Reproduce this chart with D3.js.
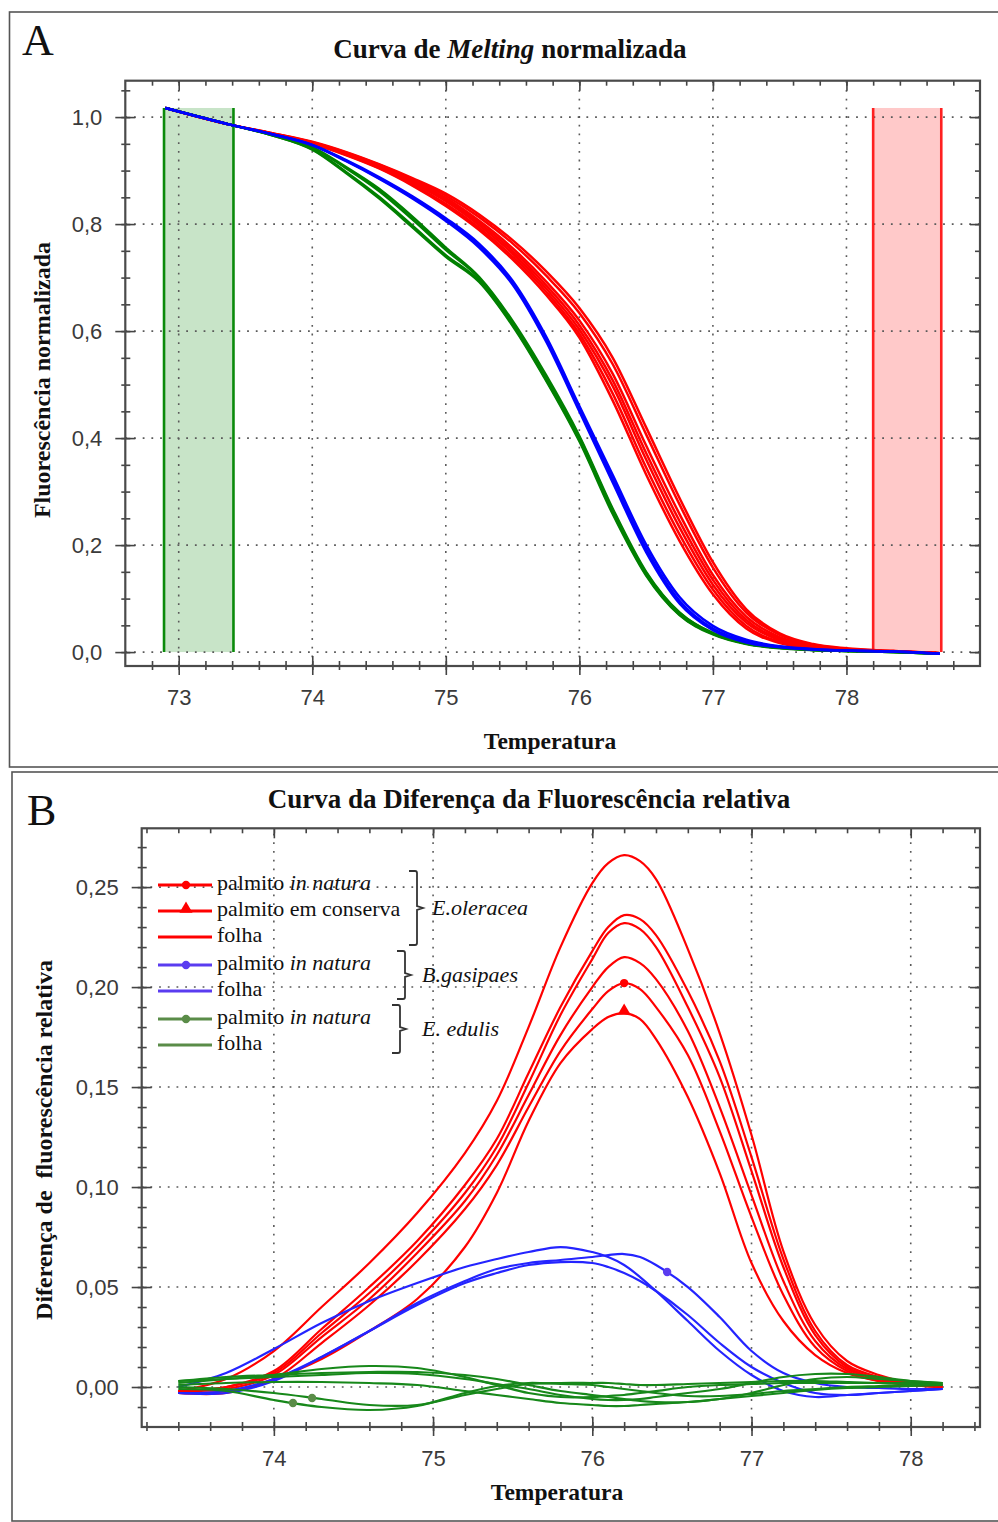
<!DOCTYPE html>
<html>
<head>
<meta charset="utf-8">
<script src="https://cdn.jsdelivr.net/npm/d3@7"></script>
<style>
  body { margin: 0; background: #fff; }
  svg { display: block; }
  .tick text { font-family: "Liberation Sans", Arial, sans-serif; font-size: 22px; fill: #3a3a3a; }
  .tick line { stroke: #444; stroke-width: 1.6; }
  .serif { font-family: "Liberation Serif", "Times New Roman", serif; }
</style>
</head>
<body>
<svg id="chart" width="998" height="1522"></svg>
<script>
// ---- Panel A: normalized melting curves ----
const tempA = [72.9, 73.4, 73.7, 74.0, 74.25, 74.5, 74.75, 75.0, 75.25, 75.5, 75.75, 76.0, 76.25, 76.5, 76.75, 77.0, 77.25, 77.5, 77.75, 78.0, 78.35, 78.7];
const redA = [
  [1.017, 0.985, 0.970, 0.954, 0.935, 0.912, 0.886, 0.857, 0.818, 0.770, 0.712, 0.643, 0.550, 0.420, 0.288, 0.168, 0.080, 0.035, 0.015, 0.007, 0.002, -0.002],
  [1.017, 0.985, 0.970, 0.953, 0.934, 0.911, 0.884, 0.853, 0.813, 0.764, 0.704, 0.634, 0.538, 0.407, 0.276, 0.158, 0.074, 0.032, 0.014, 0.006, 0.002, -0.002],
  [1.017, 0.985, 0.969, 0.952, 0.932, 0.909, 0.881, 0.849, 0.806, 0.755, 0.693, 0.620, 0.520, 0.386, 0.258, 0.144, 0.066, 0.028, 0.012, 0.005, 0.002, -0.002],
  [1.017, 0.985, 0.969, 0.952, 0.932, 0.908, 0.879, 0.846, 0.802, 0.750, 0.686, 0.611, 0.508, 0.372, 0.245, 0.135, 0.060, 0.025, 0.011, 0.005, 0.001, -0.002],
  [1.017, 0.985, 0.969, 0.951, 0.931, 0.906, 0.877, 0.843, 0.798, 0.745, 0.680, 0.603, 0.497, 0.360, 0.233, 0.126, 0.055, 0.022, 0.009, 0.004, 0.001, -0.002],
  [1.017, 0.985, 0.968, 0.951, 0.930, 0.905, 0.874, 0.838, 0.793, 0.739, 0.674, 0.595, 0.483, 0.345, 0.220, 0.117, 0.049, 0.019, 0.008, 0.004, 0.001, -0.002],
  [1.017, 0.985, 0.968, 0.950, 0.929, 0.904, 0.872, 0.834, 0.789, 0.734, 0.668, 0.588, 0.470, 0.332, 0.208, 0.108, 0.044, 0.017, 0.007, 0.003, 0.001, -0.002]
];
const blueA = [
  [1.017, 0.985, 0.968, 0.948, 0.920, 0.888, 0.852, 0.811, 0.763, 0.694, 0.590, 0.460, 0.331, 0.201, 0.103, 0.049, 0.023, 0.011, 0.006, 0.003, 0.001, -0.003],
  [1.017, 0.985, 0.968, 0.948, 0.919, 0.886, 0.850, 0.808, 0.759, 0.690, 0.585, 0.454, 0.323, 0.193, 0.096, 0.044, 0.020, 0.010, 0.005, 0.003, 0.001, -0.003],
  [1.017, 0.985, 0.968, 0.947, 0.918, 0.885, 0.848, 0.806, 0.756, 0.687, 0.581, 0.450, 0.317, 0.187, 0.091, 0.041, 0.018, 0.009, 0.005, 0.003, 0.001, -0.003]
];
const greenA = [
  [1.017, 0.985, 0.967, 0.944, 0.907, 0.866, 0.814, 0.756, 0.701, 0.619, 0.518, 0.404, 0.268, 0.150, 0.074, 0.036, 0.017, 0.008, 0.004, 0.002, 0.000, -0.003],
  [1.017, 0.985, 0.967, 0.943, 0.905, 0.862, 0.809, 0.752, 0.699, 0.616, 0.514, 0.401, 0.265, 0.148, 0.073, 0.035, 0.016, 0.008, 0.004, 0.002, 0.000, -0.003],
  [1.017, 0.985, 0.966, 0.940, 0.898, 0.851, 0.797, 0.742, 0.694, 0.612, 0.510, 0.397, 0.261, 0.145, 0.070, 0.034, 0.016, 0.008, 0.004, 0.002, 0.000, -0.003],
  [1.017, 0.985, 0.966, 0.939, 0.896, 0.848, 0.794, 0.739, 0.692, 0.610, 0.508, 0.394, 0.258, 0.143, 0.069, 0.033, 0.015, 0.007, 0.004, 0.002, 0.000, -0.003]
];
const windowsA = [[72.89, 73.41], [78.2, 78.71]];   // pre- and post-melt normalization windows
const windowTop = 1.017;
const xTicksA = [73, 74, 75, 76, 77, 78];
const yTicksA = [0, 0.2, 0.4, 0.6, 0.8, 1.0];

// ---- Panel B: difference curves ----
const tempB = [73.4, 73.7, 74.0, 74.3, 74.6, 74.9, 75.2, 75.4, 75.6, 75.8, 76.0, 76.1, 76.2, 76.3, 76.4, 76.6, 76.8, 77.0, 77.2, 77.4, 77.6, 77.8, 78.0, 78.2];
const redB = [
  [-0.002, 0.004, 0.018, 0.040, 0.062, 0.087, 0.117, 0.143, 0.180, 0.220, 0.252, 0.262, 0.266, 0.263, 0.254, 0.219, 0.177, 0.126, 0.068, 0.031, 0.013, 0.006, 0.002, 0.001],
  [-0.002, 0.000, 0.008, 0.029, 0.050, 0.073, 0.101, 0.124, 0.157, 0.190, 0.218, 0.230, 0.236, 0.234, 0.226, 0.198, 0.163, 0.115, 0.064, 0.028, 0.011, 0.005, 0.002, 0.001],
  [-0.002, 0.000, 0.007, 0.027, 0.047, 0.070, 0.097, 0.120, 0.152, 0.186, 0.214, 0.227, 0.232, 0.229, 0.220, 0.190, 0.155, 0.108, 0.060, 0.026, 0.010, 0.004, 0.002, 0.001],
  [-0.002, -0.001, 0.006, 0.025, 0.044, 0.067, 0.093, 0.116, 0.146, 0.176, 0.200, 0.210, 0.215, 0.212, 0.204, 0.178, 0.140, 0.096, 0.053, 0.023, 0.009, 0.004, 0.001, 0.000],
  [-0.003, -0.002, 0.004, 0.022, 0.041, 0.063, 0.089, 0.111, 0.140, 0.168, 0.189, 0.198, 0.202, 0.199, 0.190, 0.166, 0.128, 0.085, 0.046, 0.020, 0.008, 0.003, 0.001, 0.000],
  [-0.003, -0.003, 0.004, 0.014, 0.028, 0.044, 0.070, 0.097, 0.133, 0.162, 0.179, 0.185, 0.187, 0.184, 0.174, 0.145, 0.107, 0.062, 0.033, 0.016, 0.007, 0.003, 0.001, 0.000]
];
const blueB = [
  [0.000, 0.007, 0.019, 0.032, 0.043, 0.052, 0.060, 0.064, 0.0675, 0.070, 0.0675, 0.065, 0.061, 0.055, 0.048, 0.033, 0.018, 0.006, -0.002, -0.005, -0.004, -0.003, -0.002, -0.001],
  [-0.003, -0.003, 0.003, 0.015, 0.028, 0.042, 0.053, 0.059, 0.062, 0.0635, 0.065, 0.066, 0.0665, 0.065, 0.061, 0.050, 0.035, 0.018, 0.007, 0.002, 0.000, -0.0005, -0.001, -0.001],
  [-0.003, -0.002, 0.004, 0.015, 0.028, 0.041, 0.052, 0.057, 0.061, 0.0625, 0.062, 0.060, 0.057, 0.053, 0.048, 0.036, 0.022, 0.010, 0.002, -0.003, -0.004, -0.003, -0.002, -0.001]
];
const greenB = [
  [0.002, 0.004, 0.006, 0.009, 0.0105, 0.0095, 0.005, 0.001, -0.003, -0.005, -0.005, -0.0045, -0.004, -0.003, -0.002, 0.000, 0.001, 0.0015, 0.002, 0.002, 0.002, 0.002, 0.002, 0.002],
  [0.003, 0.004, 0.005, 0.006, 0.007, 0.0065, 0.004, 0.0015, -0.001, -0.004, -0.006, -0.0065, -0.0065, -0.006, -0.005, -0.003, -0.001, 0.002, 0.005, 0.0065, 0.0065, 0.005, 0.003, 0.002],
  [0.001, 0.002, 0.0025, 0.0025, 0.002, 0.001, -0.002, -0.004, -0.006, -0.008, -0.009, -0.0095, -0.0095, -0.009, -0.0085, -0.0075, -0.006, -0.0045, -0.003, -0.0015, -0.0005, 0.000, 0.0005, 0.001],
  [-0.001, -0.002, -0.0065, -0.010, -0.0115, -0.0095, -0.003, 0.0005, 0.002, 0.0015, 0.001, 0.000, -0.001, -0.002, -0.003, -0.0045, -0.0045, -0.0035, -0.002, -0.001, 0.000, 0.0005, 0.001, 0.001],
  [0.000, -0.001, -0.003, -0.006, -0.009, -0.009, -0.004, -0.001, 0.0015, 0.002, 0.002, 0.002, 0.0015, 0.001, 0.001, 0.0015, 0.002, 0.0025, 0.003, 0.003, 0.0025, 0.002, 0.0015, 0.001],
  [0.003, 0.005, 0.006, 0.007, 0.0075, 0.0075, 0.006, 0.004, 0.001, -0.002, -0.004, -0.005, -0.006, -0.007, -0.0075, -0.0075, -0.006, -0.003, 0.001, 0.004, 0.005, 0.004, 0.003, 0.002]
];
// sample markers
const markersB = [
  { group: "red", shape: "circle", t: 76.2, v: 0.202 },
  { group: "red", shape: "triangle", t: 76.2, v: 0.187 },
  { group: "blue", shape: "circle", t: 76.47, v: 0.0575 },
  { group: "green", shape: "circle", t: 74.12, v: -0.0080 },
  { group: "green", shape: "circle", t: 74.24, v: -0.0055 }
];
const xTicksB = [74, 75, 76, 77, 78];
const yTicksB = [0, 0.05, 0.10, 0.15, 0.20, 0.25];

const legendRows = [
  { group: 0, color: "red", shape: "circle", text: ["palmito ", "in natura"] },
  { group: 0, color: "red", shape: "triangle", text: ["palmito em conserva", ""] },
  { group: 0, color: "red", shape: null, text: ["folha", ""] },
  { group: 1, color: "blue", shape: "circle", text: ["palmito ", "in natura"] },
  { group: 1, color: "blue", shape: null, text: ["folha", ""] },
  { group: 2, color: "green", shape: "circle", text: ["palmito ", "in natura"] },
  { group: 2, color: "green", shape: null, text: ["folha", ""] }
];
const species = ["E.oleracea", "B.gasipaes", "E. edulis"];

const colA = { red: "#ff0000", blue: "#0000ff", green: "#008000" };
const colB = { red: "#ff0000", blue: "#2424ff", green: "#17881a" };
const colMark = { red: "#ff0000", blue: "#5a3cf0", green: "#5a8c48" };

const svg = d3.select("#chart");

// panel boxes
svg.append("rect").attr("x", 9.5).attr("y", 12).attr("width", 1000).attr("height", 755)
  .attr("fill", "none").attr("stroke", "#555").attr("stroke-width", 1.6);
svg.append("rect").attr("x", 12).attr("y", 772).attr("width", 1000).attr("height", 749)
  .attr("fill", "none").attr("stroke", "#555").attr("stroke-width", 1.6);

const xA = d3.scaleLinear().domain([72.6, 79.0]).range([125.3, 980]);
const yA = d3.scaleLinear().domain([-0.026, 1.068]).range([666, 80.7]);
const xB = d3.scaleLinear().domain([73.17, 78.435]).range([141.7, 980]);
const yB = d3.scaleLinear().domain([-0.02, 0.2794]).range([1427, 828.3]);

function grid(x, y, xt, yt) {
  const [xl, xr] = x.range(), [yb, ytop] = y.range();
  const g = svg.append("g").attr("stroke", "#5a5a5a").attr("stroke-width", 1.6)
    .attr("stroke-dasharray", "1.8 6.9");
  g.selectAll(".gx").data(xt).join("line")
    .attr("x1", d => x(d)).attr("x2", d => x(d)).attr("y1", yb).attr("y2", ytop);
  g.selectAll(".gy").data(yt).join("line")
    .attr("y1", d => y(d)).attr("y2", d => y(d)).attr("x1", xl).attr("x2", xr);
}

function axes(x, y, o) {
  const [xl, xr] = x.range(), [yb, yt] = y.range();
  const layer = svg.append("g");
  const put = (axis, tx, ty) => {
    const g = layer.append("g").attr("transform", `translate(${tx},${ty})`).call(axis);
    g.select(".domain").remove();
    return g;
  };
  put(d3.axisBottom(x).tickValues(o.xMinor).tickSize(4).tickFormat(""), 0, yb)
    .selectAll("line").attr("y1", -5);
  const bot = put(d3.axisBottom(x).tickValues(o.xMajor).tickSize(9).tickFormat(d3.format("d")), 0, yb);
  bot.selectAll("line").attr("y1", -10);
  bot.selectAll("text").attr("y", 23);
  put(d3.axisTop(x).tickValues(o.xMinor).tickSize(-5).tickFormat(""), 0, yt);
  put(d3.axisTop(x).tickValues(o.xMajor).tickSize(-10).tickFormat(""), 0, yt);
  put(d3.axisLeft(y).tickValues(o.yMinor).tickSize(4).tickFormat(""), xl, 0)
    .selectAll("line").attr("x1", 5);
  const left = put(d3.axisLeft(y).tickValues(o.yMajor).tickSize(10).tickFormat(o.fmt), xl, 0);
  left.selectAll("line").attr("x1", 10);
  left.selectAll("text").attr("x", -23);
  put(d3.axisRight(y).tickValues(o.yMinor).tickSize(-5).tickFormat(""), xr, 0);
  put(d3.axisRight(y).tickValues(o.yMajor).tickSize(-10).tickFormat(""), xr, 0);
  layer.append("rect").attr("x", xl).attr("y", yt).attr("width", xr - xl).attr("height", yb - yt)
    .attr("fill", "none").attr("stroke", "#4a4a4a").attr("stroke-width", 2.2);
}

function label(txt, x, y, size, opts = {}) {
  const t = svg.append("text").attr("class", "serif").attr("x", x).attr("y", y)
    .attr("font-size", size).attr("fill", "#111")
    .attr("font-weight", opts.bold ? "bold" : "normal")
    .attr("text-anchor", opts.anchor || "start");
  if (opts.rotate) t.attr("x", null).attr("y", null).attr("transform", `translate(${x},${y}) rotate(-90)`);
  return t.text(txt);
}

// ===== Panel A =====
svg.append("g").selectAll("rect").data(windowsA).join("rect")
  .attr("x", d => xA(d[0])).attr("width", d => xA(d[1]) - xA(d[0]))
  .attr("y", yA(windowTop)).attr("height", yA(0) - yA(windowTop))
  .attr("fill", (d, i) => i === 0 ? "#c8e4c8" : "#ffc9c9");

grid(xA, yA, xTicksA, yTicksA);

svg.append("g").selectAll("line").data(windowsA.flatMap((d, i) => d.map(v => [v, i]))).join("line")
  .attr("x1", d => xA(d[0])).attr("x2", d => xA(d[0]))
  .attr("y1", yA(windowTop)).attr("y2", yA(0))
  .attr("stroke", d => d[1] === 0 ? "#0a8a0a" : "#ff2020").attr("stroke-width", 2.6);

const lineA = d3.line().x((d, i) => xA(tempA[i])).y(d => yA(d)).curve(d3.curveMonotoneX);
[["red", redA], ["green", greenA], ["blue", blueA]].forEach(([k, set]) => {
  svg.append("g").selectAll("path").data(set).join("path")
    .attr("d", lineA).attr("fill", "none").attr("stroke", colA[k]).attr("stroke-width", 2.5);
});

axes(xA, yA, {
  xMajor: xTicksA, xMinor: d3.range(364, 395).map(d => d / 5),
  yMajor: yTicksA, yMinor: d3.range(0, 22).map(d => d * 0.05),
  fmt: v => d3.format(".1f")(v).replace(".", ",")
});

label("A", 22, 55, 44);
const tA = label("", 510, 58, 27, { bold: true, anchor: "middle" });
tA.append("tspan").text("Curva de ");
tA.append("tspan").attr("font-style", "italic").text("Melting");
tA.append("tspan").text(" normalizada");
label("Temperatura", 550, 749, 23.5, { bold: true, anchor: "middle" });
label("Fluorescência normalizada", 50, 380, 24, { bold: true, anchor: "middle", rotate: true });

// ===== Panel B =====
grid(xB, yB, xTicksB, yTicksB);

const lineB = d3.line().x((d, i) => xB(tempB[i])).y(d => yB(d)).curve(d3.curveCatmullRom);
[["red", redB], ["blue", blueB], ["green", greenB]].forEach(([k, set]) => {
  svg.append("g").selectAll("path").data(set).join("path")
    .attr("d", lineB).attr("fill", "none").attr("stroke", colB[k]).attr("stroke-width", 2.2);
});

const symbolOf = s => d3.symbol().type(s === "triangle" ? d3.symbolTriangle : d3.symbolCircle)
  .size(s === "triangle" ? 75 : 55)();
svg.append("g").selectAll("path").data(markersB).join("path")
  .attr("d", d => symbolOf(d.shape))
  .attr("transform", d => `translate(${xB(d.t)},${yB(d.v) - (d.shape === "triangle" ? 2 : 0)})`)
  .attr("fill", d => colMark[d.group]);

axes(xB, yB, {
  xMajor: xTicksB, xMinor: d3.range(366, 393).map(d => d / 5),
  yMajor: yTicksB, yMinor: d3.range(-1, 28).map(d => d / 100),
  fmt: v => d3.format(".2f")(v).replace(".", ",")
});

// legend
const rowY = (r, i) => 885 + i * 26 + r.group * 2;
const leg = svg.append("g");
legendRows.forEach((r, i) => {
  const y = rowY(r, i);
  leg.append("line").attr("x1", 158).attr("x2", 212).attr("y1", y).attr("y2", y)
    .attr("stroke", colMark[r.color]).attr("stroke-width", 2.8);
  if (r.shape) leg.append("path").attr("d", symbolOf(r.shape))
    .attr("transform", `translate(186,${y - (r.shape === "triangle" ? 2 : 0)})`)
    .attr("fill", colMark[r.color]);
  const t = leg.append("text").attr("class", "serif").attr("x", 217).attr("y", y + 5)
    .attr("font-size", 22).attr("fill", "#111");
  t.append("tspan").text(r.text[0]);
  if (r.text[1]) t.append("tspan").attr("font-style", "italic").text(r.text[1]);
});
const braceX = [409, 397, 392];
const speciesX = [432, 422, 422];
species.forEach((s, gi) => {
  const rows = legendRows.map((r, i) => [r, i]).filter(([r]) => r.group === gi);
  const top = rowY(...rows[0]) - 14, bottom = rowY(...rows[rows.length - 1]) + 8;
  const mid = (top + bottom) / 2, bx = braceX[gi];
  leg.append("path")
    .attr("d", `M${bx},${top} H${bx + 6} Q${bx + 8},${top} ${bx + 8},${top + 2} V${mid - 2} L${bx + 14},${mid} L${bx + 8},${mid + 2} V${bottom - 2} Q${bx + 8},${bottom} ${bx + 6},${bottom} H${bx}`)
    .attr("fill", "none").attr("stroke", "#333").attr("stroke-width", 1.8);
  leg.append("text").attr("class", "serif").attr("x", speciesX[gi]).attr("y", mid + 7)
    .attr("font-size", 22).attr("font-style", "italic").attr("fill", "#111").text(s);
});

label("B", 27, 825, 44);
label("Curva da Diferença da Fluorescência relativa", 529, 808, 27, { bold: true, anchor: "middle" });
label("Temperatura", 557, 1500, 23.5, { bold: true, anchor: "middle" });
label("Diferença de  fluorescência relativa", 52, 1140, 24, { bold: true, anchor: "middle", rotate: true })
  .attr("xml:space", "preserve").style("white-space", "pre");
</script>
</body>
</html>
